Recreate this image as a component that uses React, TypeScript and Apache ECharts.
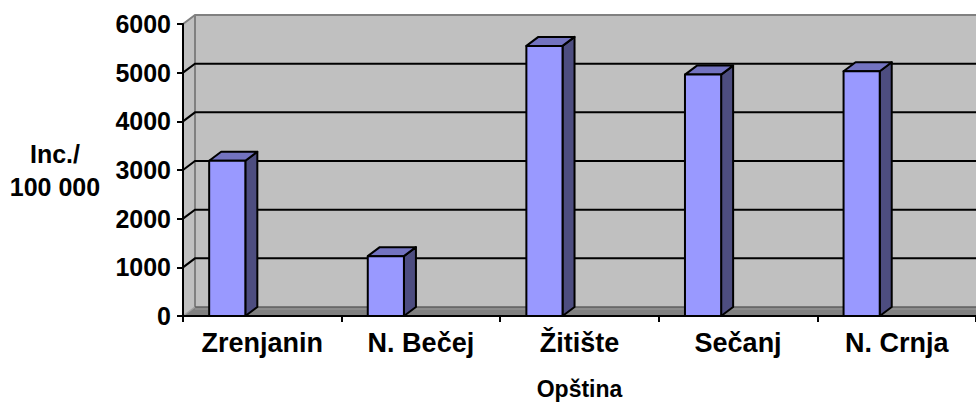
import React, { useEffect, useRef } from "react";
import * as echarts from "echarts";

const categories = ["Zrenjanin", "N. Bečej", "Žitište", "Sečanj", "N. Crnja"];
const incidence = [3190, 1230, 5550, 4960, 5030];
const yTicks = [0, 1000, 2000, 3000, 4000, 5000, 6000];
const xName = "Opština";
const yName = "Inc./\n100 000";

const DX = 12;
const DY = -9;
const FONT = "'Liberation Sans', Arial, sans-serif";

export default function App() {
  const ref = useRef<HTMLDivElement>(null);
  useEffect(() => {
    if (!ref.current) return;
    const chart = echarts.init(ref.current, null, { renderer: "svg" });
    const yMin = yTicks[0];
    const yMax = yTicks[yTicks.length - 1];
    const labelStyle = { color: "#000", fontFamily: FONT, fontWeight: "bold" as const, fontSize: 25 };

    const wallsRender = (params: any, api: any) => {
      const bw = api.size([1, 0])[0];
      const p0 = api.coord([0, yMin]);
      const left = p0[0] - bw / 2;
      const bottom = p0[1];
      const top = api.coord([0, yMax])[1];
      const right = api.coord([categories.length - 1, yMin])[0] + bw / 2;
      const children: any[] = [];
      children.push({
        type: "rect",
        shape: { x: left + DX, y: top + DY, width: right - left, height: bottom - top },
        style: { fill: "#C0C0C0" },
      });
      children.push({
        type: "polygon",
        shape: { points: [[left, top], [left + DX, top + DY], [left + DX, bottom + DY], [left, bottom]] },
        style: { fill: "#C0C0C0" },
      });
      children.push({
        type: "polygon",
        shape: { points: [[left, bottom], [right, bottom], [right + DX, bottom + DY], [left + DX, bottom + DY]] },
        style: { fill: "#808080" },
      });
      children.push({
        type: "polyline",
        shape: { points: [[left, top], [left + DX, top + DY], [right + DX, top + DY]] },
        style: { stroke: "#808080", lineWidth: 2, fill: null },
      });
      children.push({
        type: "line",
        shape: { x1: left + DX, y1: top + DY, x2: left + DX, y2: bottom + DY },
        style: { stroke: "#808080", lineWidth: 2 },
      });
      children.push({
        type: "line",
        shape: { x1: left + DX, y1: bottom + DY, x2: right + DX, y2: bottom + DY },
        style: { stroke: "#606060", lineWidth: 1.5 },
      });
      children.push({
        type: "line",
        shape: { x1: left + DX, y1: bottom + DY + 2, x2: right + DX, y2: bottom + DY + 2 },
        style: { stroke: "#999999", lineWidth: 1 },
      });
      children.push({
        type: "line",
        shape: { x1: left, y1: bottom, x2: left + DX, y2: bottom + DY },
        style: { stroke: "#A0A0A0", lineWidth: 1.5 },
      });
      yTicks.forEach((v) => {
        if (v === yMin || v === yMax) return;
        const y = api.coord([0, v])[1];
        children.push({
          type: "polyline",
          shape: { points: [[left, y], [left + DX, y + DY], [right + DX, y + DY]] },
          style: { stroke: "#000", lineWidth: 2, fill: null },
        });
      });
      return { type: "group", children };
    };

    const barsRender = (params: any, api: any) => {
      const i = api.value(0);
      const v = api.value(1);
      const bw = api.size([1, 0])[0];
      const [cx, y] = api.coord([i, v]);
      const y0 = api.coord([i, yMin])[1];
      const w = bw * 0.228;
      const x1 = cx - bw * 0.335;
      const x2 = x1 + w;
      const stroke = { stroke: "#000", lineWidth: 2, lineJoin: "round" };
      return {
        type: "group",
        children: [
          {
            type: "polygon",
            shape: { points: [[x2, y], [x2 + DX, y + DY], [x2 + DX, y0 + DY], [x2, y0]] },
            style: { fill: "#4D4D80", ...stroke },
          },
          {
            type: "polygon",
            shape: { points: [[x1, y], [x1 + DX, y + DY], [x2 + DX, y + DY], [x2, y]] },
            style: { fill: "#7373C0", ...stroke },
          },
          {
            type: "rect",
            shape: { x: x1, y, width: w, height: y0 - y },
            style: { fill: "#9999FF", ...stroke },
          },
        ],
      };
    };

    chart.setOption({
      animation: false,
      backgroundColor: "#fff",
      grid: { left: 183, right: 0, top: 24, bottom: 86, containLabel: false },
      xAxis: {
        type: "category",
        data: categories,
        boundaryGap: true,
        z: 10,
        name: xName,
        nameLocation: "middle",
        nameGap: 61,
        nameTextStyle: { ...labelStyle, fontSize: 23 },
        axisLine: { lineStyle: { color: "#000", width: 2 } },
        axisTick: { show: true, length: 6, interval: 0, lineStyle: { color: "#000", width: 2 } },
        axisLabel: { ...labelStyle, fontSize: 27, margin: 13, interval: 0 },
        splitLine: { show: false },
      },
      yAxis: {
        type: "value",
        min: yMin,
        max: yMax,
        interval: 1000,
        z: 10,
        name: yName,
        nameLocation: "middle",
        nameRotate: 0,
        nameGap: 128,
        nameTextStyle: { ...labelStyle, align: "center", verticalAlign: "middle", lineHeight: 33 },
        axisLine: { show: true, lineStyle: { color: "#000", width: 2 } },
        axisTick: { show: true, length: 6, lineStyle: { color: "#000", width: 2 } },
        axisLabel: { ...labelStyle, margin: 12, formatter: (v: number) => String(v) },
        splitLine: { show: false },
      },
      series: [
        {
          type: "custom",
          name: "walls",
          z: 1,
          silent: true,
          data: [[0, 0]],
          renderItem: wallsRender,
        },
        {
          type: "custom",
          name: "Inc./100 000",
          z: 5,
          data: incidence.map((v, i) => [i, v]),
          encode: { x: 0, y: 1 },
          renderItem: barsRender,
        },
      ],
    });
    return () => chart.dispose();
  }, []);
  return (
    <div
      ref={ref}
      style={{ position: "fixed", left: 0, top: 0, width: 976, height: 405 }}
    />
  );
}
